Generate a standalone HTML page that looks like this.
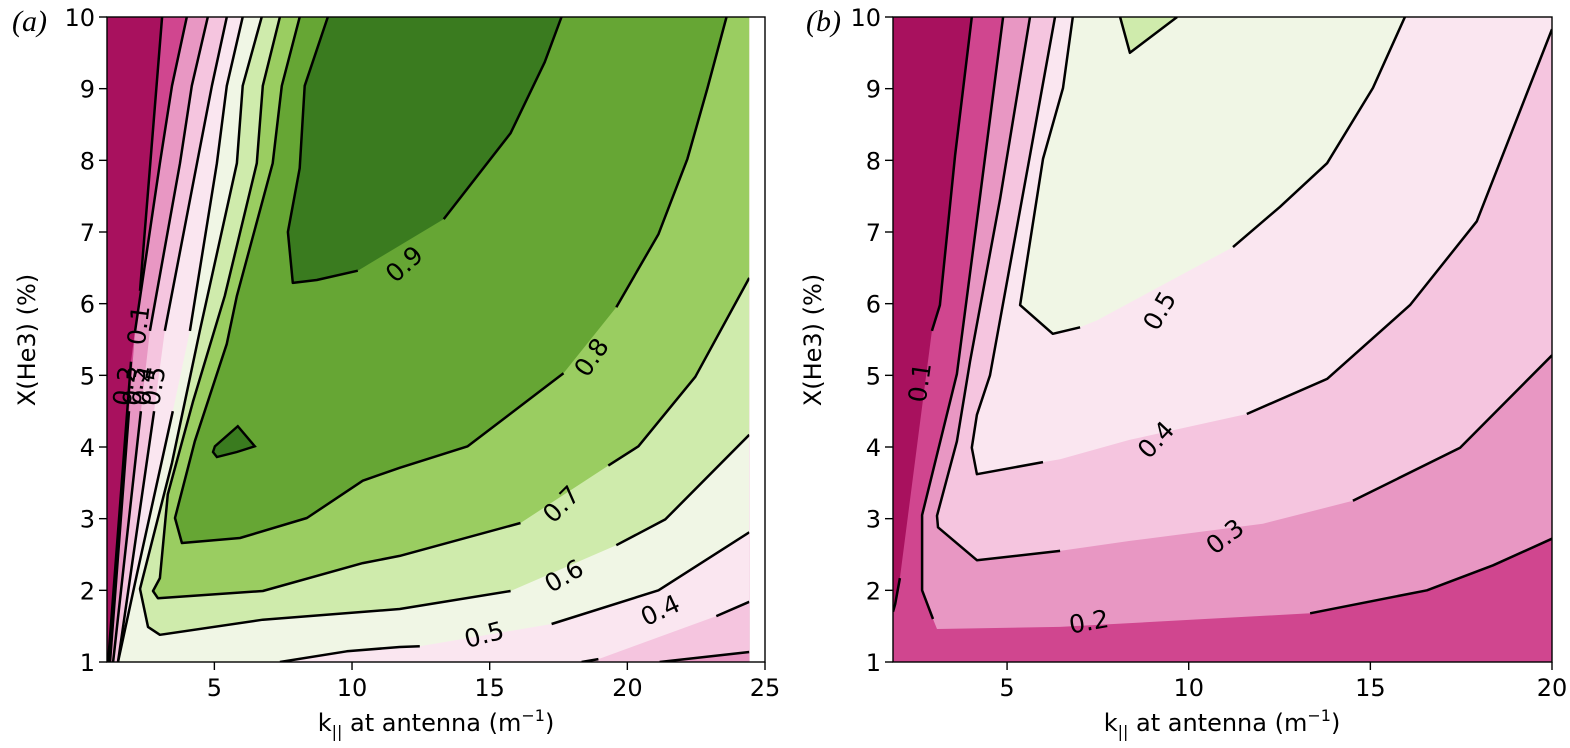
<!DOCTYPE html>
<html><head><meta charset="utf-8"><style>
html,body{margin:0;padding:0;background:#fff;}
svg{display:block;font-family:"DejaVu Sans","Liberation Sans",sans-serif;}
</style></head><body>
<svg id="fig" width="1570" height="748" viewBox="0 0 1570 748" xmlns="http://www.w3.org/2000/svg">
<text x="12" y="31" font-family="Liberation Serif,serif" font-style="italic" font-size="30">(a)</text>
<text x="806" y="31" font-family="Liberation Serif,serif" font-style="italic" font-size="30">(b)</text>
</svg>
<script>
// ---------- data (contour level lines in data coords [k, X]) ----------
const levels = [0.1,0.2,0.3,0.4,0.5,0.6,0.7,0.8,0.9];
const colors = ["#a8115e","#d0468f","#e897c3","#f5c5df","#fae6f0","#f0f6e5","#cfebac","#9acd61","#66a634","#3a7b1f"];
const xTicksA = [5,10,15,20,25];
const xTicksB = [5,10,15,20];
const yTicks = [1,2,3,4,5,6,7,8,9,10];

const a01 = [[3.10,10],[2.30,6.18],null,[1.97,5.19],[1.14,1]];
const a02 = [[4.0,10],[3.46,9.04],[3.02,7.96],[2.12,5.62],null,[1.9,4.5],[1.21,1]];
const a03 = [[4.76,10],[4.18,9.04],[3.75,7.96],[2.66,5.62],null,[2.33,4.5],[1.32,1],null,[21.17,1],[24.43,1.14]];
const a04 = [[5.45,10],[4.91,9.04],[4.37,7.96],[3.20,5.62],null,[2.81,4.5],[1.5,1],null,[18.34,1],[18.95,1.04],null,[23.23,1.64],[24.43,1.84]];
const a05 = [[6.03,10],[5.45,9.04],[5.09,7.96],[4.11,5.62],null,[3.49,4.5],[2.19,2.23],[1.5,1.0],null,[7.38,1],[9.81,1.15],[11.73,1.21],[12.46,1.22],null,[17.25,1.53],[21.13,2.0],[24.43,2.81]];
const a06 = [[6.72,10],[6.03,9.04],[5.82,7.96],[4.47,5.62],[3.46,3.78],[2.30,2.02],[2.59,1.49],[3.02,1.38],[6.76,1.59],[11.73,1.74],[15.76,1.99],null,[19.6,2.63],[21.38,2.99],[24.43,4.17]];
const a07 = [[7.38,10],[6.76,9.04],[6.54,7.96],[5.38,6.11],[4.22,4.63],[3.31,3.34],[3.02,2.17],[2.77,1.99],[2.95,1.89],[6.76,1.99],[10.39,2.38],[11.73,2.48],[16.12,2.94],null,[19.31,3.74],[20.4,4.01],[22.47,4.98],[24.43,6.36]];
const a08 = [[8.10,10],[7.45,9.04],[7.12,7.96],[5.82,6.11],[5.45,5.44],[4.29,4.08],[3.57,3.01],[3.82,2.66],[5.93,2.73],[8.36,3.01],[10.39,3.53],[11.73,3.71],[14.2,4.01],[17.68,5.03],null,[19.6,5.95],[21.13,6.97],[22.18,8.02],[22.91,9.01],[23.6,10]];
const a09 = [[9.12,10],[8.28,9.04],[8.10,7.89],[7.67,7.0],[7.85,6.29],[8.72,6.33],[10.21,6.46],null,[13.33,7.18],[15.76,8.38],[17.0,9.37],[17.61,10]];
const a09island = [[4.95,3.93],[5.02,4.01],[5.85,4.29],[6.47,4.01],[5.82,3.93],[5.09,3.86]];
const aClose = [[[24.43,1],[24.43,10]],[[24.43,1],[24.43,10]],[[24.43,10]],[[24.43,10]],[[24.43,10]],[[24.43,10]],[[24.43,10]],[],[]];

const b01 = [[4.03,10],[3.57,8.07],[3.15,5.98],[2.93,5.62],null,[2.05,2.17],[1.92,1.81],[1.86,1.7]];
const b02 = [[4.89,10],[4.25,7.47],[3.62,5.02],[2.66,3.05],[2.66,2.0],[2.96,1.60],null,[3.07,1.46],null,[6.46,1.49],null,[13.34,1.68],[16.56,2.0],[18.38,2.35],[20,2.72]];
const b03 = [[5.63,10],[4.81,7.47],[3.98,5.19],[3.62,4.08],[3.07,3.04],[3.10,2.88],[4.17,2.42],[6.46,2.55],null,[8.38,2.69],null,[12.04,2.93],null,[14.52,3.25],[17.47,3.99],[20,5.28]];
const b04 = [[6.32,10],[5.63,8.07],[4.53,5.0],[4.17,4.45],[4.03,3.99],[4.17,3.62],[5.99,3.79],null,[6.46,3.83],null,[8.38,4.10],null,[11.60,4.46],[13.81,4.95],[16.09,5.98],[17.93,7.15],[20,9.83]];
const b05 = [[6.81,10],[6.54,9.01],[5.99,8.02],[5.36,5.98],[6.26,5.58],[7.01,5.67],null,[7.48,5.77],null,[11.22,6.79],[12.51,7.35],[13.81,7.96],[15.07,9.01],[15.95,10]];
const b06 = [[8.11,10],[8.38,9.5],[9.68,10]];
const bClose = [[[1.86,1],[20,1],[20,10]],[[20,10]],[[20,10]],[[20,10]],[],[]];

const labelsA = [["0.1",2.25,5.7,-83],["0.2",1.75,4.85,-80],["0.3",2.1,4.85,-80],["0.4",2.45,4.85,-80],["0.5",2.8,4.85,-80],["0.9",11.9,6.55,-42],["0.8",18.7,5.25,-55],["0.7",17.6,3.2,-45],["0.6",17.7,2.2,-30],["0.5",14.8,1.38,-15],["0.4",21.2,1.72,-25]];
const labelsB = [["0.1",2.6,4.9,-82],["0.5",9.2,5.9,-60],["0.4",9.1,4.1,-47],["0.3",11.0,2.75,-38],["0.2",7.25,1.56,-10]];

// ---------- helpers ----------
const NS="http://www.w3.org/2000/svg";
const svg=document.getElementById('fig');
function mk(tag,attrs,parent){const e=document.createElementNS(NS,tag);for(const k in attrs)e.setAttribute(k,attrs[k]);(parent||svg).appendChild(e);return e;}

function panel(id, px0, px1, kMin, kMax, dataKMax, lines, closes, island, labels, xt, xlabelX){
  const py0=17, py1=662;
  const sx=k=>px0+(k-kMin)/(kMax-kMin)*(px1-px0);
  const sy=X=>py1-(X-1)/9*(py1-py0);
  const g=mk('g',{});
  
  
  const clipId='clip'+id;
  const cp=mk('clipPath',{id:clipId},g);
  mk('rect',{x:sx(kMin),y:py0,width:sx(dataKMax)-sx(kMin),height:py1-py0},cp);
  const fg=mk('g',{'clip-path':'url(#'+clipId+')'},g);
  const base=mk('rect',{x:sx(kMin),y:py0,width:sx(dataKMax)-sx(kMin),height:py1-py0,fill:colors[0]},fg);
  
  
  lines.forEach((ln,i)=>{
    const pts=ln.filter(p=>p).concat(closes[i]||[]);
    const poly=mk('polygon',{points:pts.map(p=>sx(p[0]).toFixed(1)+','+sy(p[1]).toFixed(1)).join(' '),fill:colors[i+1]},fg);
    
    
  });
  if(island){
    const isl=mk('polygon',{points:island.map(p=>sx(p[0]).toFixed(1)+','+sy(p[1]).toFixed(1)).join(' '),fill:colors[9],stroke:'#000','stroke-width':2.4},fg);
    
    
  }
  lines.forEach((ln,i)=>{
    let d='',pen=false;
    ln.forEach((p,j)=>{
      if(!p){pen=false;return;}
      const nextOk=(j+1<ln.length&&ln[j+1]);
      const prevOk=(j>0&&ln[j-1]);
      if(!prevOk&&!nextOk){pen=false;return;}
      d+=(pen?'L':'M')+sx(p[0]).toFixed(1)+','+sy(p[1]).toFixed(1);pen=true;
    });
    const path=mk('path',{d:d,fill:'none',stroke:'#000','stroke-width':2.5,'stroke-linejoin':'round'},fg);
    
    
  });
  labels.forEach(l=>{
    const x=sx(l[1]),y=sy(l[2]);
    const t=mk('text',{x:x,y:y,'font-size':25,'text-anchor':'middle','dominant-baseline':'central',transform:'rotate('+l[3]+' '+x+' '+y+')'},g);
    t.textContent=l[0];
    
    
  });
  const frame=mk('rect',{x:px0,y:py0,width:px1-px0,height:py1-py0,fill:'none',stroke:'#000','stroke-width':1.4},g);
  
  
  xt.forEach(v=>{
    const x=sx(v);
    mk('line',{x1:x,y1:py1,x2:x,y2:py1+8,stroke:'#000','stroke-width':1.4},g);
    const t=mk('text',{x:x,y:py1+34,'font-size':24,'text-anchor':'middle'},g);
    t.textContent=v;
    
    
  });
  yTicks.forEach(v=>{
    const y=sy(v);
    mk('line',{x1:px0-8,y1:y,x2:px0,y2:y,stroke:'#000','stroke-width':1.4},g);
    const t=mk('text',{x:px0-12,y:y+9,'font-size':24,'text-anchor':'end'},g);
    t.textContent=v;
    
    
  });
  const xl=mk('text',{x:xlabelX,y:731,'font-size':24,'text-anchor':'middle'},g);
  xl.innerHTML='k<tspan font-size="16" dy="6">||</tspan><tspan dy="-6"> at antenna (m</tspan><tspan font-size="16" dy="-10">−1</tspan><tspan dy="10">)</tspan>';
  
  
  const yx=px0-72, yy=340;
  const yl=mk('text',{x:yx,y:yy,'font-size':24,'text-anchor':'middle',transform:'rotate(-90 '+yx+' '+yy+')'},g);
  yl.textContent='X(He3) (%)';
  
  
}

panel('a',107,765,1.1,25,24.43,[a01,a02,a03,a04,a05,a06,a07,a08,a09],aClose,a09island,labelsA,xTicksA,436);
panel('b',893,1552,1.86,20,20,[b01,b02,b03,b04,b05,b06],bClose,null,labelsB,xTicksB,1222);
</script>
</body></html>
